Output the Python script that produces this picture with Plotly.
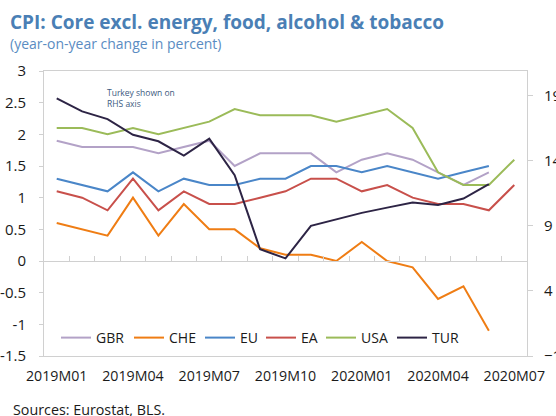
import plotly.graph_objects as go

months = ["2019M01", "2019M02", "2019M03", "2019M04", "2019M05", "2019M06", "2019M07",
          "2019M08", "2019M09", "2019M10", "2019M11", "2019M12", "2020M01", "2020M02",
          "2020M03", "2020M04", "2020M05", "2020M06", "2020M07"]

gbr = [1.9, 1.8, 1.8, 1.8, 1.7, 1.8, 1.9, 1.5, 1.7, 1.7, 1.7, 1.4, 1.6, 1.7, 1.6, 1.4, 1.2, 1.4]
che = [0.6, 0.5, 0.4, 1.0, 0.4, 0.9, 0.5, 0.5, 0.2, 0.1, 0.1, 0.0, 0.3, 0.0, -0.1, -0.6, -0.4, -1.1]
eu = [1.3, 1.2, 1.1, 1.4, 1.1, 1.3, 1.2, 1.2, 1.3, 1.3, 1.5, 1.5, 1.4, 1.5, 1.4, 1.3, 1.4, 1.5]
ea = [1.1, 1.0, 0.8, 1.3, 0.8, 1.1, 0.9, 0.9, 1.0, 1.1, 1.3, 1.3, 1.1, 1.2, 1.0, 0.9, 0.9, 0.8, 1.2]
usa = [2.1, 2.1, 2.0, 2.1, 2.0, 2.1, 2.2, 2.4, 2.3, 2.3, 2.3, 2.2, 2.3, 2.4, 2.1, 1.4, 1.2, 1.2, 1.6]
tur = [18.8, 17.8, 17.2, 16.0, 15.5, 14.4, 15.7, 12.9, 7.2, 6.5, 9.0, 9.5, 10.0, 10.4, 10.8, 10.6, 11.1, 12.2]

x_labels = months[::3]
left_ticks = [3, 2.5, 2, 1.5, 1, 0.5, 0, -0.5, -1, -1.5]
right_ticks = [-1, 4, 9, 14, 19]
left_range = [-1.5, 3]
right_range = [-1, 20.9]

FONT = "Open Sans"
AX = "#d0d0d0"
PW, PH = 483, 285  # plot area size in px

series = [
    ("GBR", gbr, "#b3a2c7", "y", 28),
    ("CHE", che, "#ef7d14", "y", 26),
    ("EU", eu, "#4a86c8", "y", 16),
    ("EA", ea, "#c8504b", "y", 15),
    ("USA", usa, "#9bbb59", "y", 26),
    ("TUR", tur, "#2d2445", "y2", 30),
]

fig = go.Figure()
for name, vals, color, yax, lw in series:
    fig.add_trace(go.Scatter(
        x=months[:len(vals)], y=vals, name=name, mode="lines",
        line=dict(color=color, width=2), yaxis=yax, xaxis="x", legendwidth=lw,
    ))

# invisible helper trace for the zero-line axis
fig.add_trace(go.Scatter(x=months, y=[None] * len(months), xaxis="x2", yaxis="y",
                         showlegend=False, hoverinfo="skip", mode="lines"))

zero_pos = (0 - left_range[0]) / (left_range[1] - left_range[0])

fig.update_layout(
    width=556, height=416,
    margin=dict(l=44, r=29, t=71, b=60, autoexpand=False),
    paper_bgcolor="white", plot_bgcolor="white",
    font=dict(family=FONT, size=13, color="#1a1a1a"),
    showlegend=True,
    legend=dict(orientation="h", x=12 / PW, y=18 / PH, xanchor="left", yanchor="middle",
                bgcolor="rgba(0,0,0,0)", font=dict(size=14, family=FONT, color="#1a1a1a"),
                itemwidth=30, tracegroupgap=0),
    xaxis=dict(type="category", categoryarray=months, categoryorder="array",
               range=[-0.5, len(months) - 0.5], automargin=False,
               tickmode="array", tickvals=x_labels, ticktext=x_labels,
               ticks="", showline=True, linecolor=AX, linewidth=1, mirror=True,
               showgrid=False, zeroline=False, ticklabelstandoff=7,
               tickfont=dict(size=14.2, family=FONT, color="#1a1a1a")),
    xaxis2=dict(type="category", categoryarray=months, categoryorder="array",
                range=[-0.5, len(months) - 0.5], overlaying="x", anchor="free",
                position=zero_pos, side="bottom", tickson="boundaries", automargin=False,
                ticks="inside", ticklen=5, tickcolor=AX, showticklabels=False,
                showline=True, linecolor=AX, linewidth=1, showgrid=False, zeroline=False),
    yaxis=dict(range=left_range, tickmode="array", tickvals=left_ticks,
               ticktext=[f"{v:g}" for v in left_ticks], automargin=False,
               ticks="outside", ticklen=4, tickcolor=AX, showline=True, linecolor=AX,
               showgrid=False, zeroline=False, ticklabelstandoff=10,
               tickfont=dict(size=15, family=FONT, color="#1a1a1a")),
    yaxis2=dict(range=right_range, tickmode="array", tickvals=right_ticks,
                overlaying="y", side="right", anchor="x", automargin=False,
                ticks="outside", ticklen=5, tickcolor=AX, showline=True, linecolor=AX,
                showgrid=False, zeroline=False, ticklabelstandoff=8,
                tickfont=dict(size=15, family=FONT, color="#1a1a1a")),
)

fig.add_annotation(xref="paper", yref="paper", x=-36 / PW, y=1 + 49 / PH,
                   xanchor="left", yanchor="middle", showarrow=False,
                   text="<b>CPI: Core excl. energy, food, alcohol &amp; tobacco</b>",
                   font=dict(family=FONT, size=19, color="#4a7fb5"))
fig.add_annotation(xref="paper", yref="paper", x=-36 / PW, y=1 + 27 / PH,
                   xanchor="left", yanchor="middle", showarrow=False,
                   text="(year-on-year change in percent)",
                   font=dict(family=FONT, size=14, color="#5a8cc2"))
fig.add_annotation(xref="paper", yref="paper", x=61 / PW, y=1 - 27 / PH,
                   xanchor="left", yanchor="middle", showarrow=False, align="left",
                   text="Turkey shown on<br>RHS axis",
                   font=dict(family=FONT, size=8.5, color="#3d5a80"))
fig.add_annotation(xref="paper", yref="paper", x=-33 / PW, y=-53 / PH,
                   xanchor="left", yanchor="middle", showarrow=False,
                   text="Sources: Eurostat, BLS.",
                   font=dict(family=FONT, size=14.3, color="#1a1a1a"))

fig.write_html("out.html", post_script="document.body.style.margin='0';",
               config={"displayModeBar": False})
